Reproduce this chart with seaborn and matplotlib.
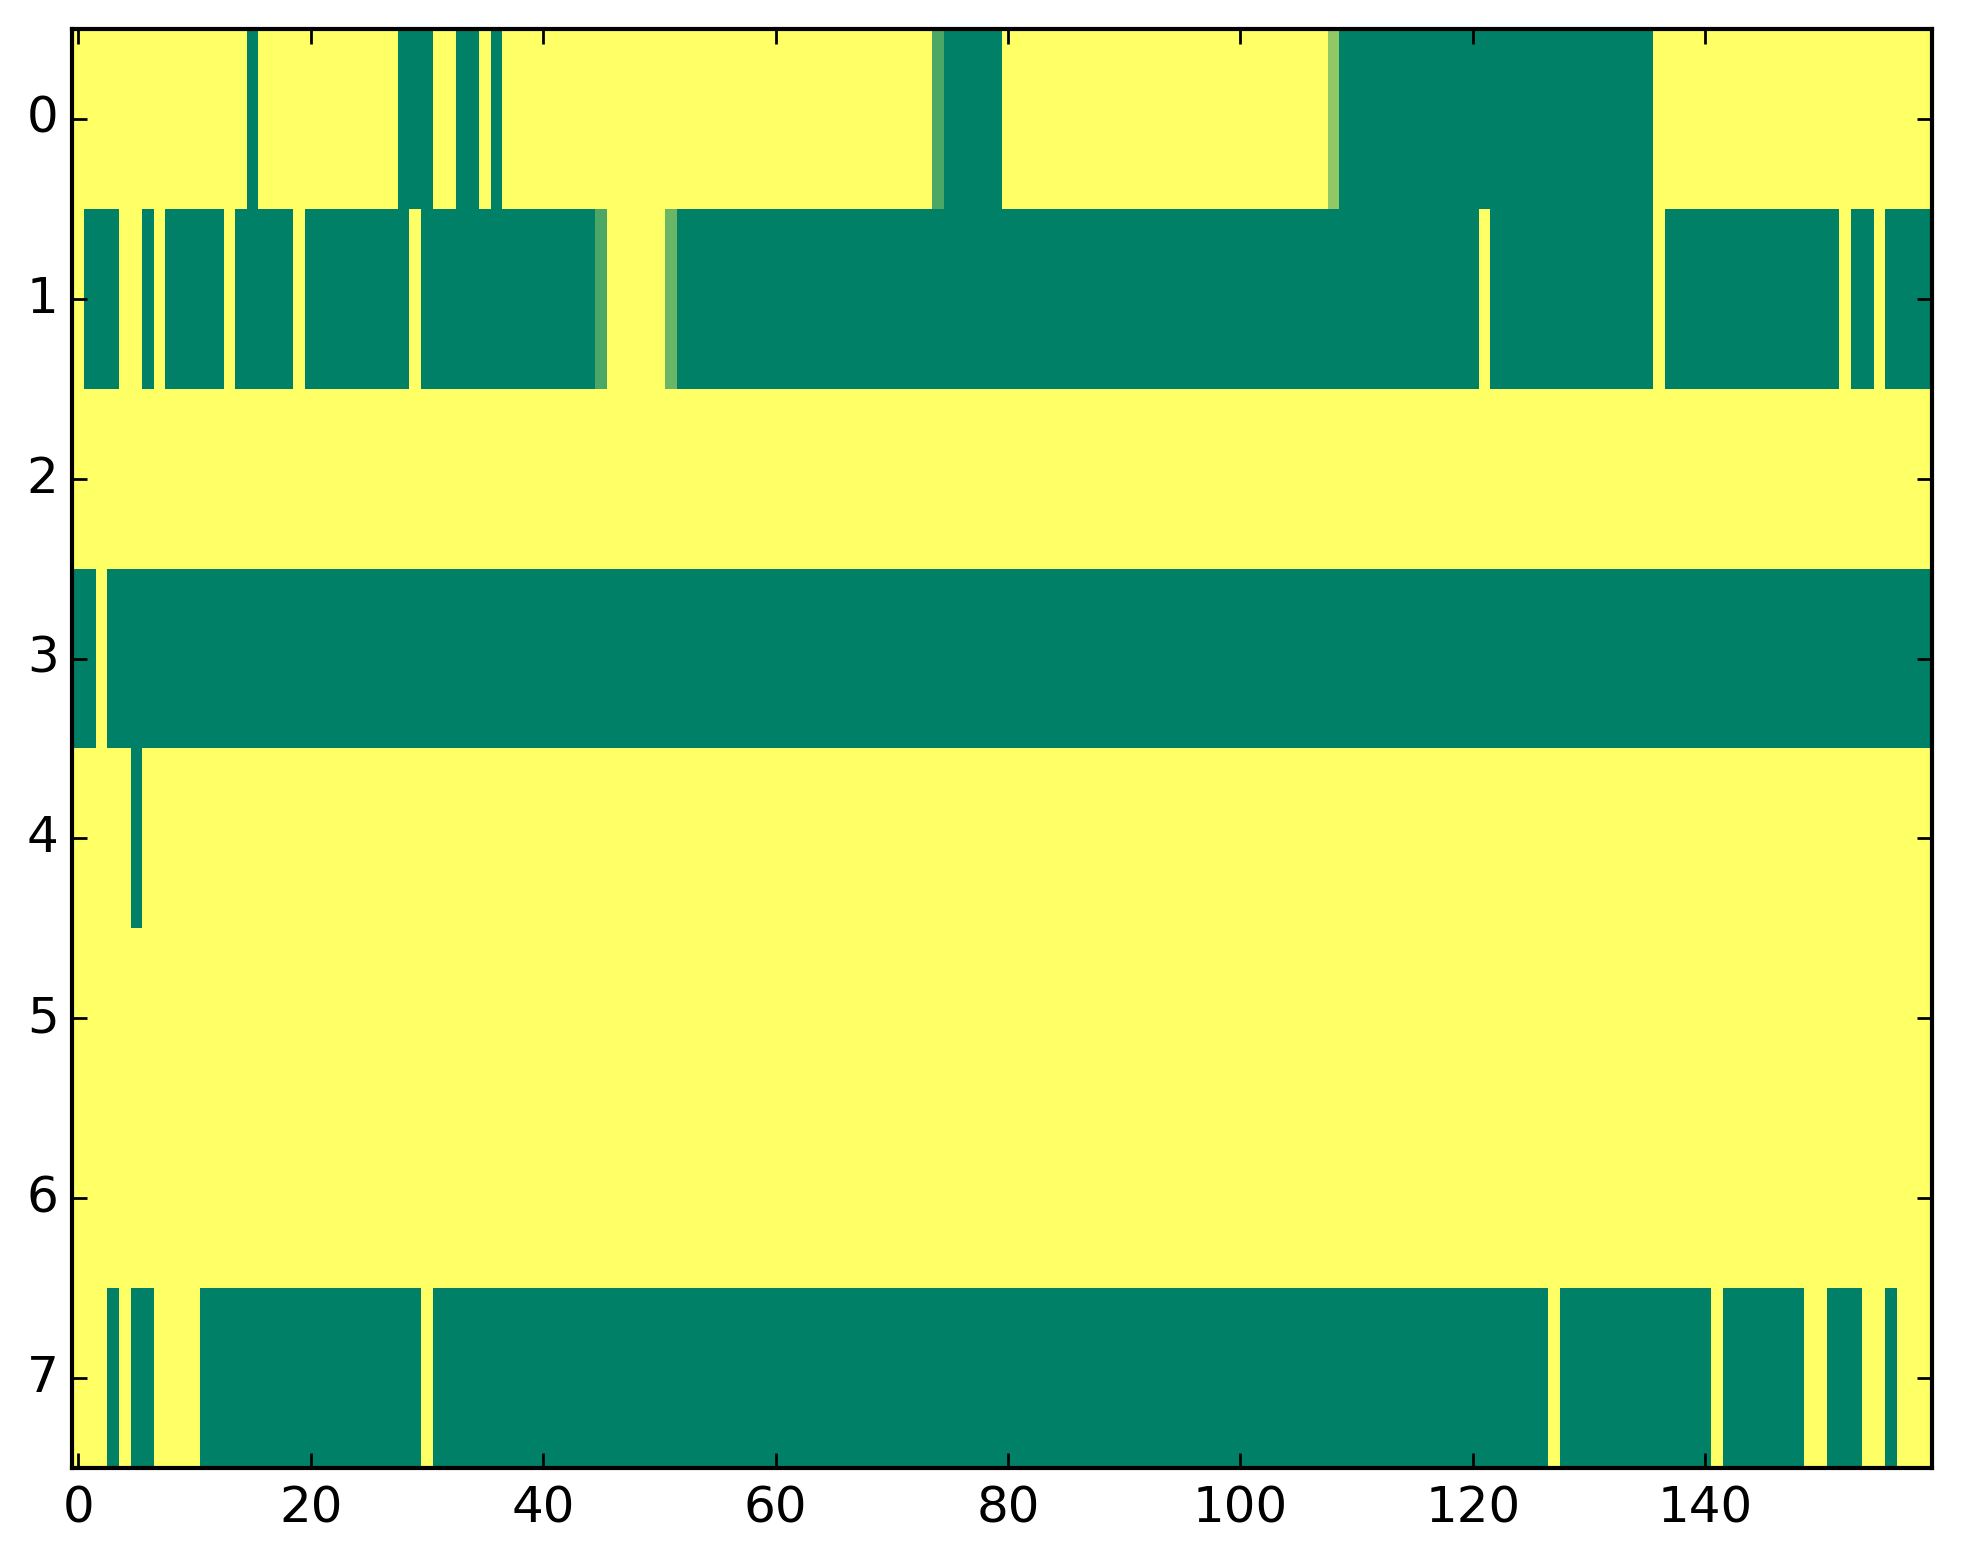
import numpy as np
import matplotlib
matplotlib.use("Agg")
import matplotlib.pyplot as plt
import seaborn as sns

# one string per row, 160 cells, grouped by 10 for reading
# '1' = yellow (1.0), '0' = green (0.0), a/b/c = in-between shades
row_0 = "1111111111 1111101111 1111111100 0110010111 1111111111 1111111111 1111111111 1111a00000 1111111111 1111111111 11111111c0 0000000000 0000000000 0000001111 1111111111 1111111111"
row_1 = "1000110100 0001000001 0000000001 0000000000 00000a1111 1b00000000 0000000000 0000000000 0000000000 0000000000 0000000000 0000000000 0100000000 0000001000 0000000000 0010010000"
row_2 = "1111111111 1111111111 1111111111 1111111111 1111111111 1111111111 1111111111 1111111111 1111111111 1111111111 1111111111 1111111111 1111111111 1111111111 1111111111 1111111111"
row_3 = "0010000000 0000000000 0000000000 0000000000 0000000000 0000000000 0000000000 0000000000 0000000000 0000000000 0000000000 0000000000 0000000000 0000000000 0000000000 0000000000"
row_4 = "1111101111 1111111111 1111111111 1111111111 1111111111 1111111111 1111111111 1111111111 1111111111 1111111111 1111111111 1111111111 1111111111 1111111111 1111111111 1111111111"
row_5 = "1111111111 1111111111 1111111111 1111111111 1111111111 1111111111 1111111111 1111111111 1111111111 1111111111 1111111111 1111111111 1111111111 1111111111 1111111111 1111111111"
row_6 = "1111111111 1111111111 1111111111 1111111111 1111111111 1111111111 1111111111 1111111111 1111111111 1111111111 1111111111 1111111111 1111111111 1111111111 1111111111 1111111111"
row_7 = "1110100111 1000000000 0000000000 1000000000 0000000000 0000000000 0000000000 0000000000 0000000000 0000000000 0000000000 0000000000 0000000100 0000000000 0100000001 1000110111"

shade = {"0": 0.0, "1": 1.0, "a": 0.3, "b": 0.42, "c": 0.57}

x_ticks = [0, 20, 40, 60, 80, 100, 120, 140]
y_ticks = [0, 1, 2, 3, 4, 5, 6, 7]

rows = [row_0, row_1, row_2, row_3, row_4, row_5, row_6, row_7]
data = np.array([[shade[ch] for ch in r.replace(" ", "")] for r in rows])

fig = plt.figure(figsize=(9.815, 7.82), dpi=200)
ax = fig.add_axes([0.0369, 0.0614, 0.9473, 0.9201])

sns.heatmap(data, cmap="summer", vmin=0, vmax=1, cbar=False, ax=ax)

# heatmap puts cell centres at i + 0.5
ax.set_xticks([t + 0.5 for t in x_ticks])
ax.set_xticklabels([str(t) for t in x_ticks], rotation=0)
ax.set_yticks([t + 0.5 for t in y_ticks])
ax.set_yticklabels([str(t) for t in y_ticks], rotation=0)

for s in ax.spines.values():
    s.set_visible(True)
    s.set_linewidth(1.5)
    s.set_color("black")

ax.tick_params(direction="in", top=True, right=True, length=5.5, width=1,
               labelsize=18, colors="black")
ax.tick_params(axis="x", pad=6)
ax.tick_params(axis="y", pad=5)

fig.savefig("out.png", dpi=200)
